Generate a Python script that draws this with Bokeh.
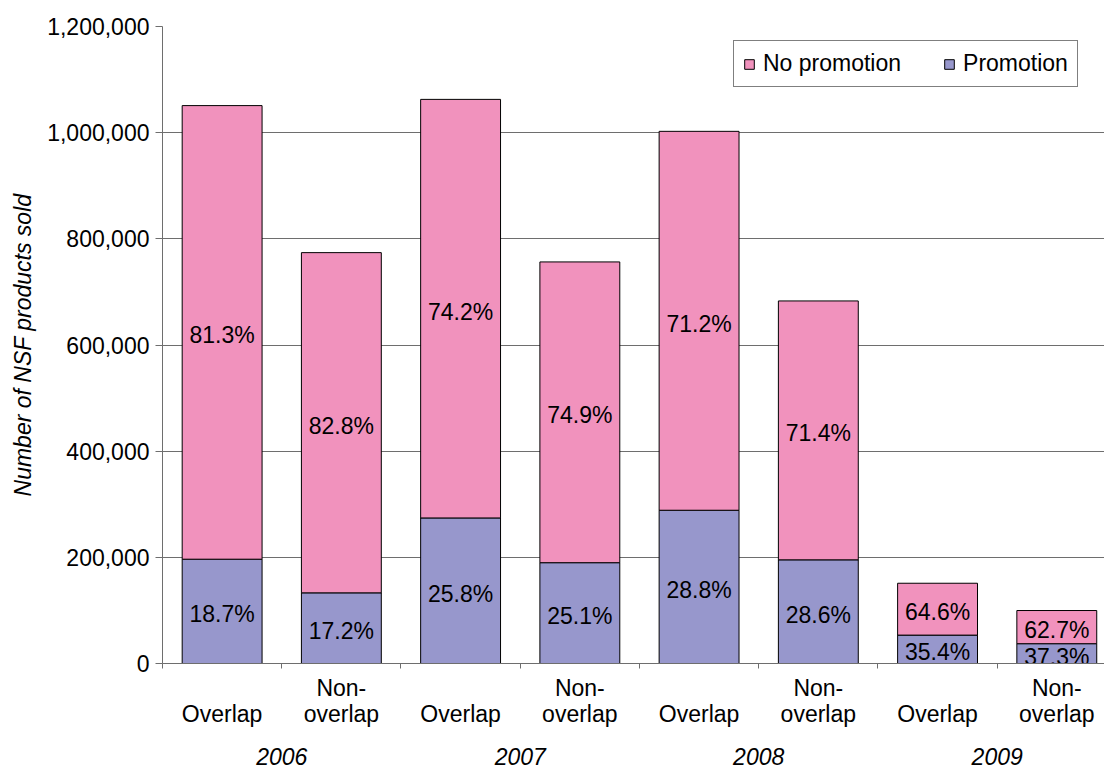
from bokeh.plotting import figure
from bokeh.models import (ColumnDataSource, FixedTicker, NumeralTickFormatter, Legend, LegendItem,
                          LinearAxis, CustomJSTickFormatter)
from bokeh.core.properties import value
from bokeh.embed import file_html
from bokeh.resources import INLINE
import numpy as np

# ---------------- data ----------------
years = ["2006", "2007", "2008", "2009"]
categories = ["Overlap", "Non-overlap"] * 4
promotion = [196500, 133100, 274200, 189900, 288700, 195300, 53500, 37300]
no_promotion = [854500, 640900, 788500, 566600, 713800, 487700, 97700, 62500]
promotion_pct = ["18.7%", "17.2%", "25.8%", "25.1%", "28.8%", "28.6%", "35.4%", "37.3%"]
no_promotion_pct = ["81.3%", "82.8%", "74.2%", "74.9%", "71.2%", "71.4%", "64.6%", "62.7%"]
y_ticks = [0, 200000, 400000, 600000, 800000, 1000000, 1200000]

FONT = "Liberation Sans"
PINK = "#F192BD"
BLUE = "#9797CC"
GRID = "#6e6e6e"
FS = "23px"

n = len(promotion)
xs = np.arange(n) + 0.5
promo = np.array(promotion, dtype=float)
nopromo = np.array(no_promotion, dtype=float)

src = ColumnDataSource(dict(
    x=xs, promotion=promo, no_promotion=nopromo,
    promo_mid=promo / 2, nopromo_mid=promo + nopromo / 2,
    promo_pct=promotion_pct, nopromo_pct=no_promotion_pct,
))

p = figure(width=1104, height=769, x_range=(0, 7.9), y_range=(0, 1200000),
           min_border_left=162, min_border_right=0, min_border_top=26, min_border_bottom=106,
           output_backend="svg", toolbar_location=None)
p.outline_line_color = None
p.xgrid.grid_line_color = None
p.ygrid.grid_line_color = GRID
p.ygrid.grid_line_width = 1
p.ygrid.ticker = FixedTicker(ticks=y_ticks)

rs = p.vbar_stack(["promotion", "no_promotion"], x="x", width=0.67, source=src,
                  fill_color=[BLUE, PINK], line_color="black", line_width=1)

# labels inside segments
common = dict(text_font=value(FONT), text_font_size=FS, text_align="center",
              text_baseline="middle", text_color="black", y_offset=3)
p.text(x="x", y="promo_mid", text="promo_pct", source=src, **common)
p.text(x="x", y="nopromo_mid", text="nopromo_pct", source=src, **common)

# y axis
ya = p.yaxis[0]
ya.ticker = FixedTicker(ticks=y_ticks)
ya.formatter = NumeralTickFormatter(format="0,0")
ya.axis_line_color = GRID
ya.major_tick_line_color = GRID
ya.major_tick_out = 7
ya.major_tick_in = 0
ya.minor_tick_line_color = None
ya.major_label_text_font = FONT
ya.major_label_text_font_size = FS
ya.major_label_text_color = "black"
ya.major_label_standoff = 6
ya.axis_label = "Number of NSF products sold"
ya.axis_label_text_font = FONT
ya.axis_label_text_font_size = FS
ya.axis_label_text_font_style = "italic"
ya.axis_label_text_color = "black"
ya.axis_label_standoff = 8

# x axis: ticks at category boundaries, no labels
xa = p.xaxis[0]
xa.ticker = FixedTicker(ticks=list(range(n)))
xa.formatter = CustomJSTickFormatter(code="return ''")
xa.axis_line_color = GRID
xa.major_tick_line_color = GRID
xa.major_tick_out = 5
xa.major_tick_in = 0
xa.minor_tick_line_color = None
xa.major_label_standoff = 0


def label_axis(ticks, labels, standoff, italic=False):
    ax = LinearAxis(ticker=FixedTicker(ticks=list(ticks)),
                    formatter=CustomJSTickFormatter(args=dict(labels=list(labels)),
                                                    code="return labels[index]"))
    ax.axis_line_color = None
    ax.major_tick_line_color = None
    ax.minor_tick_line_color = None
    ax.major_tick_out = 0
    ax.major_tick_in = 0
    ax.major_label_standoff = standoff
    ax.major_label_text_font = FONT
    ax.major_label_text_font_size = FS
    ax.major_label_text_color = "black"
    if italic:
        ax.major_label_text_font_style = "italic"
    p.add_layout(ax, "below")
    return ax


# first line ("Non-") for two-line categories, second line for all
first_lines = [c.split("-")[0] + "-" for c in categories if "-" in c]
first_x = [x for x, c in zip(xs, categories) if "-" in c]
second_lines = [c.split("-")[1] if "-" in c else c for c in categories]
label_axis(first_x, first_lines, 6)
label_axis(xs, second_lines, -3)
label_axis([2 * k + 1 for k in range(len(years))], years, 18, italic=True)

legend = Legend(items=[LegendItem(label="No promotion", renderers=[rs[1]]),
                       LegendItem(label="Promotion", renderers=[rs[0]])],
                orientation="horizontal", location=(571, 576))
legend.border_line_color = "black"
legend.border_line_width = 1
legend.label_text_font = FONT
legend.label_text_font_size = FS
legend.label_text_color = "black"
legend.glyph_width = 12
legend.glyph_height = 12
legend.label_standoff = 8
legend.padding = 9
legend.spacing = 42
legend.margin = 0
p.add_layout(legend)

open("out.html", "w").write(file_html(p, INLINE))
